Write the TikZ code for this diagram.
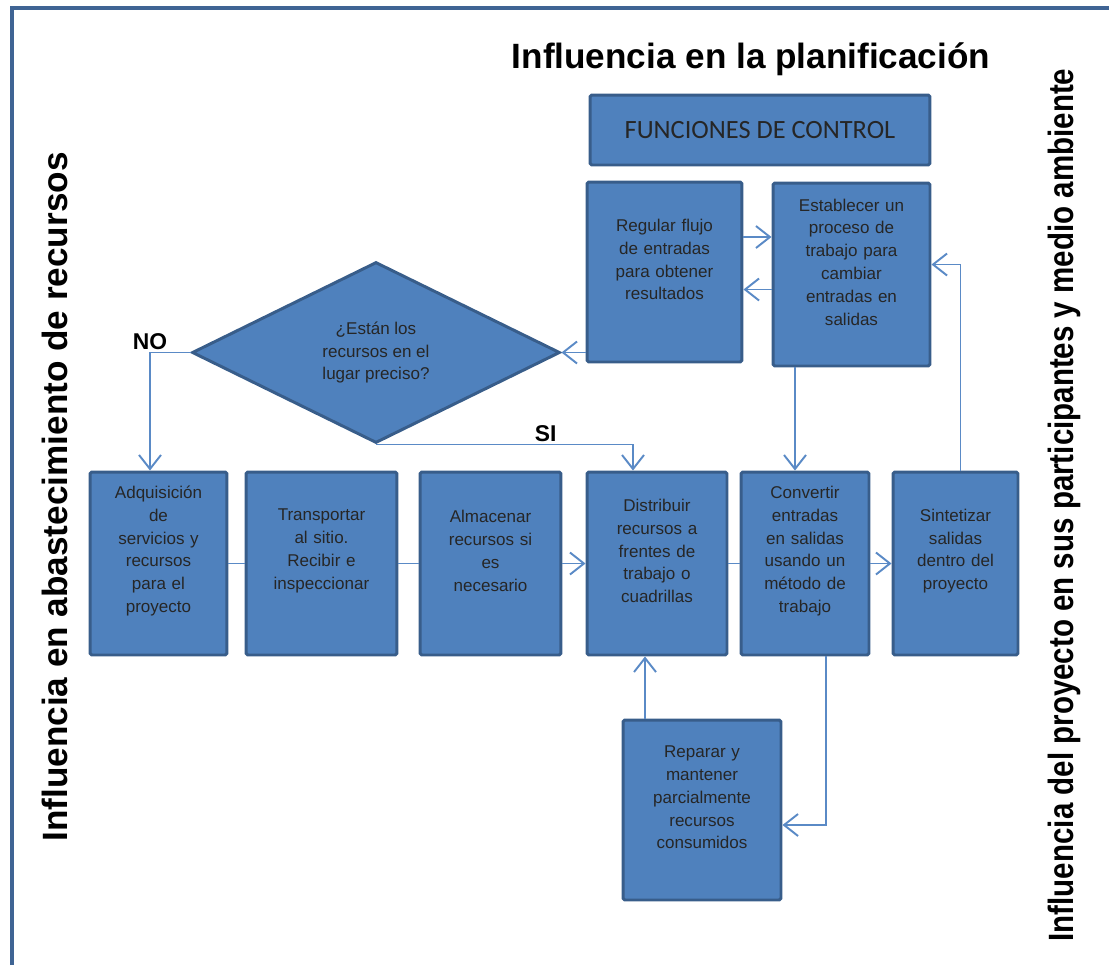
\documentclass[tikz,border=0pt]{standalone}
\usepackage{fontspec}
\setmainfont{Liberation Sans}
\newfontfamily\carlito{Carlito}
\usepackage{xcolor}
\usepackage{tikz}
\usetikzlibrary{shapes,arrows.meta,positioning,calc}

\definecolor{boxblue}{HTML}{4F81BD}
\definecolor{boxedge}{HTML}{385D8A}
\definecolor{linkblue}{HTML}{5A8AC6}
\definecolor{framecol}{HTML}{3F6494}

\begin{document}
\begin{tikzpicture}[x=0.02cm, y=-0.02cm,
  >={Straight Barb[length=2.8mm, width=4.4mm]},
  stepbox/.style={rectangle, draw=boxedge, line width=1.7pt, fill=boxblue, rounded corners=1pt,
                  text=black!85, align=center, inner sep=2pt, text width=2.3cm,
                  font=\fontsize{9.7}{13}\selectfont,
                  execute at end node={\endgraf\vspace{0.5cm}}},
  ctrlbox/.style={rectangle, draw=boxedge, line width=1.7pt, fill=boxblue, rounded corners=1pt,
                  text=black!85, font=\carlito\fontsize{15}{18}\selectfont},
  decision/.style={diamond, draw=boxedge, line width=1.7pt, fill=boxblue, aspect=2,
                   text=black!85, align=center, inner sep=0pt,
                   font=\fontsize{9.7}{13}\selectfont},
  flow/.style={draw=linkblue, line width=1.1pt},
  lbl/.style={font=\fontsize{13}{15}\selectfont\bfseries, inner sep=1pt},
  bigtext/.style={font=\fontsize{20}{24}\selectfont\bfseries, inner sep=0pt}]

\useasboundingbox (0,0) rectangle (1109,965);

% marco
\draw[framecol, line width=2.3pt] (12,965) -- (12,8) -- (1109,8);

% textos de influencia
\node[bigtext, anchor=base] (plan) at (751,68) {Influencia en la planificación};
\node[bigtext, anchor=base, rotate=90] (abast) at (67,497) {Influencia en abastecimiento de recursos};
\node[bigtext, anchor=base, rotate=90] (entorno) at (1073,505)
  {\scalebox{0.84}[1]{Influencia del proyecto en sus participantes y medio ambiente}};

% funciones de control
\node[ctrlbox, minimum width=6.8cm, minimum height=1.4cm] (ctrl) at (760,130) {FUNCIONES DE CONTROL};

\node[stepbox, minimum width=3.1cm, minimum height=3.6cm] (reg) at (664.5,272)
  {Regular flujo\\ de entradas\\ para obtener\\ resultados};
\node[stepbox, minimum width=3.14cm, minimum height=3.66cm] (est) at (851.5,274.5)
  {Establecer un\\ proceso de\\ trabajo para\\ cambiar\\ entradas en\\ salidas};

\node[decision, minimum width=7.36cm, minimum height=3.62cm] (dec) at (376,352.5)
  {¿Están los\\ recursos en el\\ lugar preciso?};

% fila de abastecimiento
\node[stepbox, minimum width=2.74cm, minimum height=3.66cm] (adq) at (158.5,563.5)
  {Adquisición\\ de\\ servicios y\\ recursos\\ para el\\ proyecto};
\node[stepbox, minimum width=3.02cm, minimum height=3.66cm] (tra) at (321.5,563.5)
  {Transportar\\ al sitio.\\ Recibir e\\ inspeccionar};
\node[stepbox, minimum width=2.82cm, minimum height=3.66cm] (alm) at (490.5,563.5)
  {Almacenar\\ recursos si\\ es\\ necesario};
\node[stepbox, minimum width=2.8cm, minimum height=3.66cm] (dis) at (657,563.5)
  {Distribuir\\ recursos a\\ frentes de\\ trabajo o\\ cuadrillas};
\node[stepbox, minimum width=2.56cm, minimum height=3.66cm] (con) at (805,563.5)
  {Convertir\\ entradas\\ en salidas\\ usando un\\ método de\\ trabajo};
\node[stepbox, minimum width=2.5cm, minimum height=3.66cm] (sin) at (955.5,563.5)
  {Sintetizar\\ salidas\\ dentro del\\ proyecto};

\node[stepbox, minimum width=3.16cm, minimum height=3.6cm] (rep) at (702,810)
  {Reparar y\\ mantener\\ parcialmente\\ recursos\\ consumidos};

% conexiones
\draw[flow, ->] ([yshift=0.7cm]reg.east) -- ([yshift=0.7cm]reg.east -| est.west);
\draw[flow, ->] ([yshift=-0.3cm]est.west) -- ([yshift=-0.3cm]est.west -| reg.east);
\draw[flow, ->] (reg.west |- dec.east) -- (dec.east);
\draw[flow, ->] (dec.west) -| ([xshift=-0.17cm]adq.north) node[pos=0.5, above, lbl] (no) {NO};
\draw[flow, ->] (dec.south) -| ([xshift=-0.48cm]dis.north) node[pos=0.33, above, lbl] (si) {SI};
\draw[flow, ->] ([xshift=-0.2cm]con.north |- est.south) -- ([xshift=-0.2cm]con.north);
\draw[flow, ->] ([xshift=0.1cm]sin.north) |- ([yshift=0.2cm]est.east);

\draw[flow] (adq) -- (tra);
\draw[flow] (tra) -- (alm);
\draw[flow, ->] (alm) -- (dis);
\draw[flow] (dis) -- (con);
\draw[flow, ->] (con) -- (sin);

\draw[flow, ->] ([xshift=-0.24cm]dis.south |- rep.north) -- ([xshift=-0.24cm]dis.south);
\draw[flow, ->] ([xshift=0.42cm]con.south) |- ([yshift=-0.3cm]rep.east);

\end{tikzpicture}
\end{document}
